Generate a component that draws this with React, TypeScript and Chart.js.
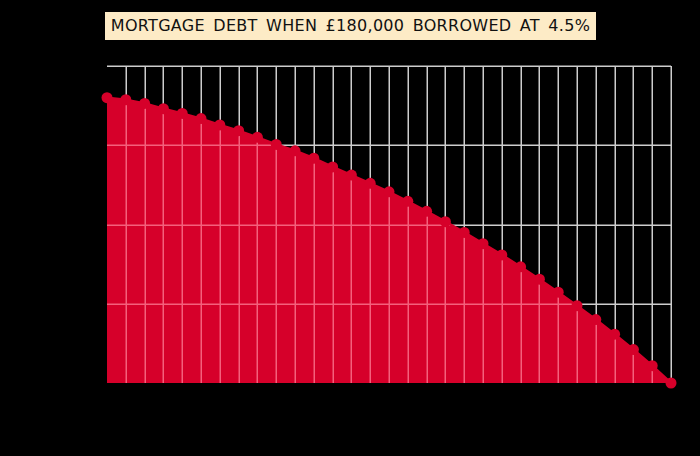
import { useEffect, useRef } from 'react'
import { Chart, registerables, type ChartConfiguration, type Plugin } from 'chart.js'

Chart.register(...registerables)

const years = Array.from({ length: 31 }, (_, i) => i)
const debt = [
  180000, 178700, 176400, 173100, 170100, 166800, 162800, 159200, 155000, 150500,
  146500, 141800, 136300, 131200, 126000, 120600, 114600, 108300, 101800, 95000,
  87900, 80800, 73300, 65500, 57300, 48800, 40000, 30800, 21100, 10900, 0,
]
const yTicks = [50000, 100000, 150000, 200000]
const titleText = 'MORTGAGE DEBT WHEN £180,000 BORROWED AT 4.5%'

// grid: pink where it crosses the red fill, grey behind everything else
const gridPlugin: Plugin<'line'> = {
  id: 'twoToneGrid',
  beforeDatasetDraw(chart) {
    const { ctx, chartArea, scales } = chart
    const drawLines = () => {
      ctx.beginPath()
      years.slice(1).forEach((v) => {
        const x = Math.round(scales.x.getPixelForValue(v)) + 0.25
        ctx.moveTo(x, chartArea.top)
        ctx.lineTo(x, chartArea.bottom)
      })
      yTicks.forEach((v) => {
        const y = Math.round(scales.y.getPixelForValue(v)) + 0.25
        ctx.moveTo(chartArea.left, y)
        ctx.lineTo(chartArea.right, y)
      })
      ctx.stroke()
    }
    ctx.save()
    ctx.lineWidth = 1.5
    ctx.globalCompositeOperation = 'source-atop'
    ctx.strokeStyle = '#f4607c'
    drawLines()
    ctx.globalCompositeOperation = 'destination-over'
    ctx.strokeStyle = '#cdcdcd'
    drawLines()
    ctx.restore()
  },
}

export default function App() {
  const chartRef = useRef<HTMLCanvasElement>(null)
  const chartInstance = useRef<Chart | null>(null)

  useEffect(() => {
    document.body.style.margin = '0'
    document.body.style.background = '#000'
    if (!chartRef.current) return
    chartInstance.current?.destroy()
    const ctx = chartRef.current.getContext('2d')
    if (!ctx) return

    const config: ChartConfiguration<'line'> = {
      type: 'line',
      data: {
        datasets: [{
          label: 'Debt',
          data: years.map((y, i) => ({ x: y, y: debt[i] })),
          borderColor: '#d6002a',
          borderWidth: 2.5,
          backgroundColor: '#d6002a',
          fill: 'origin',
          pointRadius: 5.5,
          pointBackgroundColor: '#d6002a',
          pointBorderColor: '#d6002a',
          pointBorderWidth: 0,
          tension: 0,
          clip: false,
        }],
      },
      options: {
        animation: false,
        responsive: false,
        layout: { padding: { left: 107, right: 29, top: 66, bottom: 73 } },
        scales: {
          x: {
            type: 'linear',
            min: 0,
            max: 30,
            ticks: { display: false, stepSize: 1 },
            border: { display: false },
            grid: { display: false, drawTicks: false },
          },
          y: {
            min: 0,
            max: 200000,
            ticks: { display: false, stepSize: 50000 },
            border: { display: false },
            grid: { display: false, drawTicks: false },
          },
        },
        plugins: {
          legend: { display: false },
          tooltip: { enabled: false },
        },
      },
      plugins: [gridPlugin],
    }

    chartInstance.current = new Chart(ctx, config)
    return () => {
      chartInstance.current?.destroy()
    }
  }, [])

  return (
    <div style={{ position: 'relative', width: 700, height: 456, background: '#000' }}>
      <canvas ref={chartRef} width={700} height={456} style={{ display: 'block' }} />
      <div
        style={{
          position: 'absolute',
          left: 105,
          top: 12,
          width: 491,
          height: 28,
          background: '#fdebc6',
          color: '#111',
          fontFamily: '"DejaVu Sans", sans-serif',
          fontSize: 16,
          lineHeight: '28px',
          textAlign: 'center',
          wordSpacing: 3,
          letterSpacing: 0.3,
          whiteSpace: 'nowrap',
        }}
      >
        {titleText}
      </div>
    </div>
  )
}
